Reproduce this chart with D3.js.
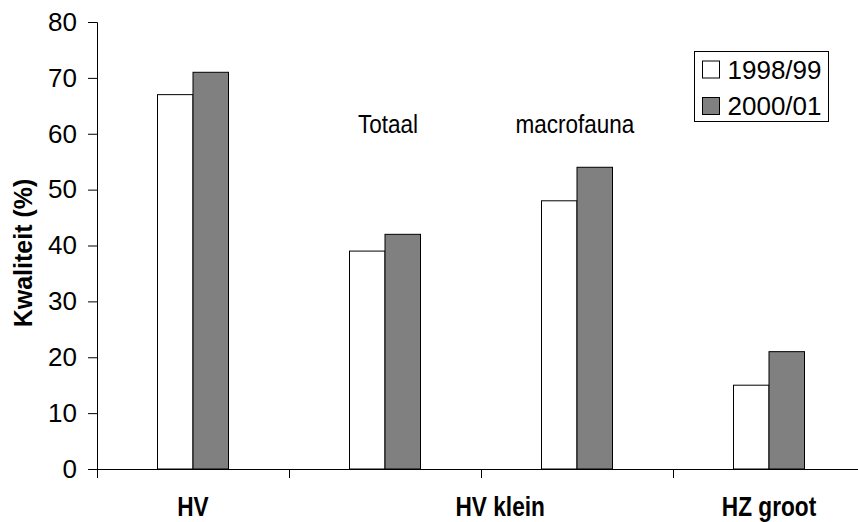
<!DOCTYPE html>
<html>
<head>
<meta charset="utf-8">
<script src="https://cdn.jsdelivr.net/npm/d3@7"></script>
<style>
  body { margin: 0; background: #fff; }
  svg { display: block; font-family: "Liberation Sans", Arial, sans-serif; }
</style>
</head>
<body>
<svg id="chart" width="858" height="522"></svg>
<script>
// data
var groups = ["HV", "HV klein (totaal)", "HV klein (macrofauna)", "HZ groot"];
var series = ["1998/99", "2000/01"];
var values1998 = [67, 39, 48, 15];
var values2000 = [71, 42, 54, 21];
var yTicks = [0, 10, 20, 30, 40, 50, 60, 70, 80];
// category labels and where they sit along the axis (in group units)
var xLabels = ["HV", "HV klein", "HZ groot"];
var xLabelPos = [0.5, 2.1, 3.5];
var notes = ["Totaal", "macrofauna"];
var notePos = [1.36, 2.18];
var colors = ["#ffffff", "#808080"];

(function () {
  var svg = d3.select("#chart");
  var m = { left: 97, bottom: 469, top: 22, right: 865 };

  var x = d3.scaleBand().domain(groups).range([m.left, m.right]).padding(0);
  var xPos = d3.scaleLinear().domain([0, groups.length]).range([m.left, m.right]);
  var x1 = d3.scaleBand().domain(series).range([60.5, 131.5]);
  var y = d3.scaleLinear().domain([0, 80]).range([m.bottom, m.top]);

  // y axis
  var yAxis = svg.append("g")
    .attr("transform", "translate(" + m.left + ",0)")
    .call(d3.axisLeft(y).tickValues(yTicks).tickSize(9).tickPadding(11));
  yAxis.selectAll("text").attr("font-size", 26).attr("fill", "#000").attr("font-family", "Liberation Sans");
  yAxis.selectAll("line").attr("stroke", "#000");
  yAxis.select(".domain").attr("stroke", "#000");

  // bars
  var rows = groups.map(function (g, i) { return { g: g, v: [values1998[i], values2000[i]] }; });
  var grp = svg.selectAll(".grp").data(rows).enter().append("g")
    .attr("transform", function (d) { return "translate(" + x(d.g) + ",0)"; });
  grp.selectAll("rect").data(function (d) {
      return series.map(function (s, j) { return { s: s, v: d.v[j], c: colors[j] }; });
    }).enter().append("rect")
    .attr("x", function (d) { return x1(d.s); })
    .attr("width", x1.bandwidth())
    .attr("y", function (d) { return y(d.v); })
    .attr("height", function (d) { return m.bottom - y(d.v); })
    .attr("fill", function (d) { return d.c; })
    .attr("stroke", "#000")
    .attr("stroke-width", 1);

  // x axis
  var xAxis = svg.append("g")
    .attr("transform", "translate(0," + m.bottom + ")")
    .call(d3.axisBottom(xPos).tickValues(d3.range(groups.length + 1)).tickSize(9).tickFormat(""));
  xAxis.select(".domain").attr("stroke", "#000");
  xAxis.selectAll("line").attr("stroke", "#000");

  svg.selectAll(".xlab").data(xLabels).enter().append("text")
    .attr("transform", function (d, i) { return "translate(" + xPos(xLabelPos[i]) + ",516) scale(0.84,1)"; })
    .attr("text-anchor", "middle")
    .attr("font-weight", "bold")
    .attr("font-size", 27)
    .text(function (d) { return d; });

  // floating notes
  svg.selectAll(".note").data(notes).enter().append("text")
    .attr("transform", function (d, i) { return "translate(" + xPos(notePos[i]) + ",133) scale(0.9,1)"; })
    .attr("font-size", 25)
    .text(function (d) { return d; });

  // y title
  svg.append("text")
    .attr("transform", "translate(32,253) rotate(-90)")
    .attr("text-anchor", "middle")
    .attr("font-weight", "bold")
    .attr("font-size", 25)
    .text("Kwaliteit (%)");

  // legend
  var lg = svg.append("g").attr("transform", "translate(694.5,51.5)");
  lg.append("rect").attr("width", 134).attr("height", 70).attr("fill", "#fff").attr("stroke", "#000");
  var item = lg.selectAll(".item").data(series).enter().append("g")
    .attr("transform", function (d, i) { return "translate(8," + (9.5 + i * 36.5) + ")"; });
  item.append("rect").attr("width", 17).attr("height", 17)
    .attr("fill", function (d, i) { return colors[i]; }).attr("stroke", "#000");
  item.append("text").attr("x", 25).attr("y", 17.5).attr("font-size", 26).text(function (d) { return d; });
})();
</script>
</body>
</html>
